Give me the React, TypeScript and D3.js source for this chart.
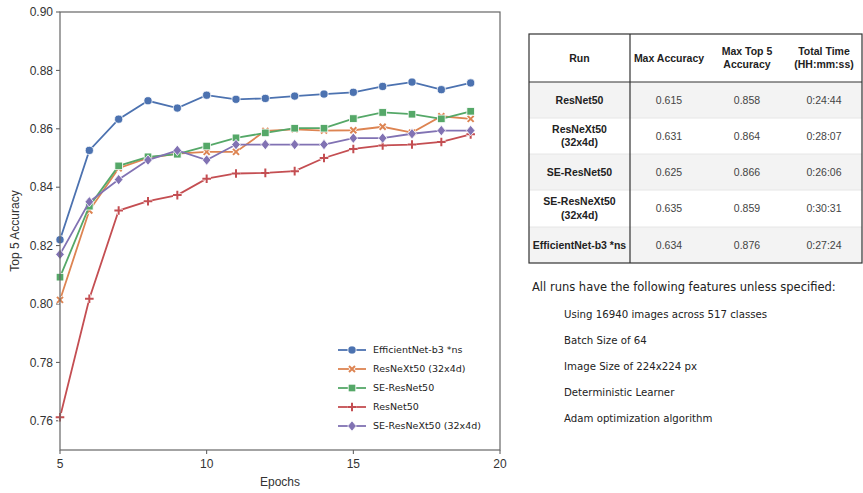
import React from 'react';
import * as d3 from 'd3';

const epochs = [5, 6, 7, 8, 9, 10, 11, 12, 13, 14, 15, 16, 17, 18, 19];

const effNet = [0.822, 0.8526, 0.8633, 0.8696, 0.8671, 0.8715, 0.8701, 0.8704, 0.8712, 0.8719, 0.8725, 0.8745, 0.876, 0.8734, 0.8757];
const resnext = [0.8014, 0.832, 0.8465, 0.85, 0.8515, 0.8521, 0.8521, 0.8593, 0.8598, 0.8594, 0.8595, 0.8607, 0.8587, 0.8643, 0.8634];
const seResnet = [0.8092, 0.8335, 0.8473, 0.8504, 0.8513, 0.8541, 0.8569, 0.8586, 0.8602, 0.8602, 0.8635, 0.8656, 0.865, 0.8634, 0.866];
const resnet = [0.7612, 0.8018, 0.832, 0.8352, 0.8373, 0.8429, 0.8447, 0.8449, 0.8455, 0.85, 0.8531, 0.8543, 0.8546, 0.8555, 0.8581];
const seResnext = [0.817, 0.835, 0.8426, 0.8493, 0.8526, 0.8493, 0.8546, 0.8546, 0.8546, 0.8546, 0.8568, 0.8568, 0.8583, 0.8594, 0.8594];

const seriesNames = ['EfficientNet-b3 *ns', 'ResNeXt50 (32x4d)', 'SE-ResNet50', 'ResNet50', 'SE-ResNeXt50 (32x4d)'];
const seriesValues = [effNet, resnext, seResnet, resnet, seResnext];
const colors = ['#4c72b0', '#dd8452', '#55a868', '#c44e52', '#8172b3'];
const markers = ['circle', 'x', 'square', 'plus', 'diamond'];

const xTicks = [5, 10, 15, 20];
const yTicks = [0.76, 0.78, 0.8, 0.82, 0.84, 0.86, 0.88, 0.9];

const tableHeader = [['Run'], ['Max Accuracy'], ['Max Top 5', 'Accuracy'], ['Total Time', '(HH:mm:ss)']];
const tableRuns = [['ResNet50'], ['ResNeXt50', '(32x4d)'], ['SE-ResNet50'], ['SE-ResNeXt50', '(32x4d)'], ['EfficientNet-b3 *ns']];
const maxAcc = ['0.615', '0.631', '0.625', '0.635', '0.634'];
const maxTop5 = ['0.858', '0.864', '0.866', '0.859', '0.876'];
const totalTime = ['0:24:44', '0:28:07', '0:26:06', '0:30:31', '0:27:24'];

const notesTitle = 'All runs have the following features unless specified:';
const notes = ['Using 16940 images across 517 classes', 'Batch Size of 64', 'Image Size of 224x224 px', 'Deterministic Learner', 'Adam optimization algorithm'];

const Marker = ({ type, x, y, color }: { type: string; x: number; y: number; color: string }) => {
  if (type === 'circle') return <circle cx={x} cy={y} r={4.1} fill={color} stroke="#fff" strokeWidth={0.8} />;
  if (type === 'square') return <rect x={x - 3.8} y={y - 3.8} width={7.6} height={7.6} fill={color} stroke="#fff" strokeWidth={0.8} />;
  if (type === 'diamond') return <path d={`M${x},${y - 5.2}L${x + 4.3},${y}L${x},${y + 5.2}L${x - 4.3},${y}Z`} fill={color} stroke="#fff" strokeWidth={0.8} />;
  const s = type === 'x' ? 3 : 4.3;
  const d = type === 'x'
    ? `M${x - s},${y - s}L${x + s},${y + s}M${x - s},${y + s}L${x + s},${y - s}`
    : `M${x - s},${y}L${x + s},${y}M${x},${y - s}L${x},${y + s}`;
  return (
    <g>
      <path d={d} stroke="#fff" strokeWidth={3.6} />
      <path d={d} stroke={color} strokeWidth={2} />
    </g>
  );
};

export default function App() {
  const W = 863, H = 493;
  const m = { left: 60, right: 500, top: 12, bottom: 450 };
  const x = d3.scaleLinear().domain([5, 20]).range([m.left, m.right]);
  const y = d3.scaleLinear().domain([0.75, 0.9]).range([m.bottom, m.top]);
  const line = d3.line<number>().x((_, i) => x(epochs[i])).y(d => y(d));

  const tx = [529, 630, 708, 786, 862];
  const ty = [34, 82, 118, 154, 190, 227, 263];
  const font = 'Arial, "Liberation Sans", sans-serif';
  const vfont = '"DejaVu Sans", Verdana, sans-serif';

  const cell = (lines: string[], cx: number, y0: number, y1: number, bold: boolean, color: string, key: string) => {
    const cy = (y0 + y1) / 2;
    const lh = 13.5;
    const start = cy - ((lines.length - 1) * lh) / 2;
    return (
      <text key={key} x={cx} textAnchor="middle" fontFamily={font} fontSize={10.5} fontWeight={bold ? 'bold' : 'normal'} fill={color}>
        {lines.map((l, i) => (
          <tspan key={i} x={cx} y={start + i * lh} dy="0.35em">{l}</tspan>
        ))}
      </text>
    );
  };

  return (
    <svg width={W} height={H} style={{ position: 'absolute', left: 0, top: 0, background: '#fff' }}>
      {/* chart */}
      <g fontFamily={font}>
        {yTicks.map(t => (
          <g key={t}>
            <line x1={m.left - 4} x2={m.left} y1={y(t)} y2={y(t)} stroke="#555" strokeWidth={1} />
            <text x={m.left - 7} y={y(t)} dy="0.35em" textAnchor="end" fontSize={12} fill="#333">{t.toFixed(2)}</text>
          </g>
        ))}
        {xTicks.map(t => (
          <g key={t}>
            <line x1={x(t)} x2={x(t)} y1={m.bottom} y2={m.bottom + 4} stroke="#555" strokeWidth={1} />
            <text x={x(t)} y={m.bottom + 18} textAnchor="middle" fontSize={12} fill="#333">{t}</text>
          </g>
        ))}
        <text x={(m.left + m.right) / 2} y={486} textAnchor="middle" fontSize={12} fill="#333">Epochs</text>
        <text transform={`translate(19,${(m.top + m.bottom) / 2}) rotate(-90)`} textAnchor="middle" fontSize={12} fill="#333">Top 5 Accuracy</text>

        {seriesValues.map((vals, si) => (
          <g key={si}>
            <path d={line(vals) || ''} fill="none" stroke={colors[si]} strokeWidth={1.8} />
            {vals.map((v, i) => (
              <Marker key={i} type={markers[si]} x={x(epochs[i])} y={y(v)} color={colors[si]} />
            ))}
          </g>
        ))}
        <rect x={m.left} y={m.top} width={m.right - m.left} height={m.bottom - m.top} fill="none" stroke="#666" strokeWidth={1.2} />

        {seriesNames.map((name, i) => {
          const ly = 350 + i * 19;
          return (
            <g key={name}>
              <line x1={338} x2={366} y1={ly} y2={ly} stroke={colors[i]} strokeWidth={1.8} />
              <Marker type={markers[i]} x={352} y={ly} color={colors[i]} />
              <text x={373} y={ly} dy="0.35em" fontFamily={vfont} fontSize={9.5} fill="#222">{name}</text>
            </g>
          );
        })}
      </g>

      {/* table */}
      <g>
        {tableRuns.map((_, r) => (
          <rect key={r} x={tx[0]} y={ty[r + 1]} width={tx[4] - tx[0]} height={ty[r + 2] - ty[r + 1]} fill={r % 2 === 0 ? '#f3f3f3' : '#fff'} />
        ))}
        {ty.slice(1, -1).map((yy, i) => (
          <line key={i} x1={tx[0]} x2={tx[4]} y1={yy} y2={yy} stroke={i === 0 ? '#333' : '#e6e6e6'} strokeWidth={i === 0 ? 1.2 : 1} />
        ))}
        <line x1={tx[1]} x2={tx[1]} y1={ty[0]} y2={ty[6]} stroke="#333" strokeWidth={1.2} />
        <rect x={tx[0]} y={ty[0]} width={tx[4] - tx[0]} height={ty[6] - ty[0]} fill="none" stroke="#333" strokeWidth={1.2} />
        {tableHeader.map((h, c) => cell(h, (tx[c] + tx[c + 1]) / 2, ty[0], ty[1], true, '#222', `h${c}`))}
        {tableRuns.map((run, r) => (
          <g key={r}>
            {cell(run, (tx[0] + tx[1]) / 2, ty[r + 1], ty[r + 2], true, '#222', `a${r}`)}
            {cell([maxAcc[r]], (tx[1] + tx[2]) / 2, ty[r + 1], ty[r + 2], false, '#444', `b${r}`)}
            {cell([maxTop5[r]], (tx[2] + tx[3]) / 2, ty[r + 1], ty[r + 2], false, '#444', `c${r}`)}
            {cell([totalTime[r]], (tx[3] + tx[4]) / 2, ty[r + 1], ty[r + 2], false, '#444', `d${r}`)}
          </g>
        ))}
      </g>

      {/* notes */}
      <g fontFamily={vfont} fill="#222">
        <text x={532} y={291} fontSize={11.5}>{notesTitle}</text>
        {notes.map((n, i) => (
          <text key={n} x={564} y={318 + i * 26} fontSize={10.2}>{n}</text>
        ))}
      </g>
    </svg>
  );
}
